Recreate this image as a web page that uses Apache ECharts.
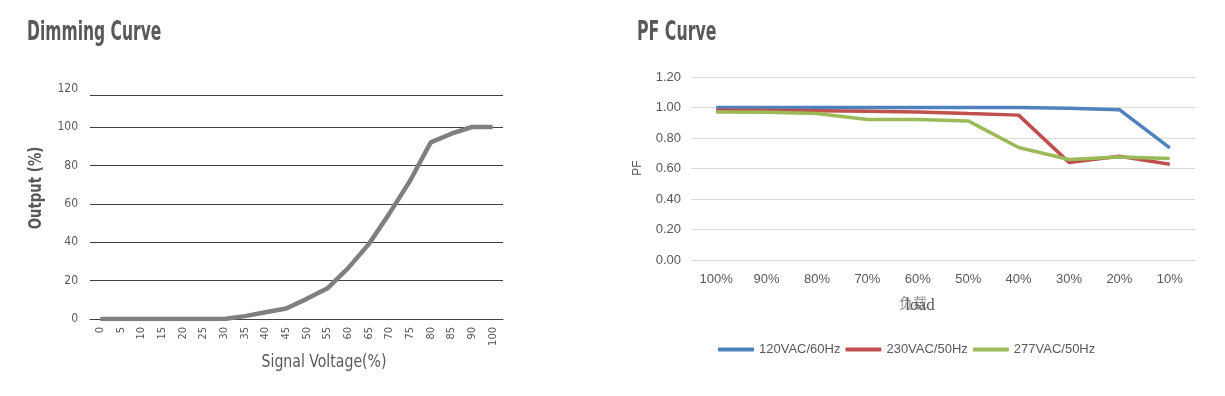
<!DOCTYPE html>
<html>
<head>
<meta charset="utf-8">
<script src="https://cdn.jsdelivr.net/npm/echarts@6/dist/echarts.min.js"></script>
<style>
html,body{margin:0;padding:0;background:#fff;}
#c{width:1225px;height:396px;}
</style>
</head>
<body>
<div id="c"></div>
<script>
// ---- Dimming curve data ----
const dimCategories = ['0','5','10','15','20','25','30','35','40','45','50','55','60','65','70','75','80','85','90','100'];
const dimOutput = [0,0,0,0,0,0,0,1.5,3.5,5.5,10.5,16,26.5,39,55,72,92,96.5,100,100];
const dimYTicks = [0,20,40,60,80,100,120];
const dimTopRule = 116.7;

// ---- PF curve data ----
const pfCategories = ['100%','90%','80%','70%','60%','50%','40%','30%','20%','10%'];
const pf120 = [1.00,1.00,1.00,1.00,1.00,1.00,1.00,0.995,0.986,0.735];
const pf230 = [0.982,0.980,0.978,0.975,0.971,0.960,0.950,0.640,0.680,0.628];
const pf277 = [0.971,0.969,0.960,0.921,0.921,0.912,0.738,0.659,0.676,0.666];
const pfSeriesNames = ['120VAC/60Hz','230VAC/50Hz','277VAC/50Hz'];

const narrow = "'Liberation Sans Narrow', 'DejaVu Sans Condensed', 'Roboto Condensed', sans-serif";
const plain = "'Liberation Sans', Arial, sans-serif";

const chart = echarts.init(document.getElementById('c'), null, {renderer:'canvas'});

const option = {
  animation: false,
  backgroundColor: '#ffffff',
  grid: [
    {left: 90, top: 88.6, width: 413, height: 230.4, containLabel: false},
    {left: 691, top: 77, width: 504, height: 183, containLabel: false}
  ],
  xAxis: [
    {
      gridIndex: 0, type: 'category', data: dimCategories, boundaryGap: true,
      axisLine: {show: true, lineStyle: {color: '#404040', width: 1}},
      axisTick: {show: false},
      axisLabel: {rotate: 90, margin: 8, fontSize: 11, color: '#595959', fontFamily: narrow, interval: 0},
      splitLine: {show: false}
    },
    {
      gridIndex: 1, type: 'category', data: pfCategories, boundaryGap: true,
      axisLine: {show: true, lineStyle: {color: '#d9d9d9', width: 1}},
      axisTick: {show: false},
      axisLabel: {margin: 13, fontSize: 13, color: '#595959', fontFamily: plain, interval: 0},
      splitLine: {show: false}
    }
  ],
  yAxis: [
    {
      gridIndex: 0, type: 'value', min: dimYTicks[0], max: dimYTicks[dimYTicks.length-1], interval: 20,
      axisLine: {show: false}, axisTick: {show: false},
      axisLabel: {margin: 12, fontSize: 12, color: '#595959', fontFamily: narrow},
      splitLine: {show: true, showMaxLine: false, lineStyle: {color: '#404040', width: 1}}
    },
    {
      gridIndex: 1, type: 'value', min: 0, max: 1.2, interval: 0.2,
      axisLine: {show: false}, axisTick: {show: false},
      axisLabel: {margin: 10, fontSize: 13, color: '#595959', fontFamily: plain,
        formatter: v => v.toFixed(2)},
      splitLine: {show: true, lineStyle: {color: '#d9d9d9', width: 1}}
    }
  ],
  legend: {
    data: pfSeriesNames,
    left: 718, top: 343,
    icon: 'roundRect', itemWidth: 36, itemHeight: 4, itemGap: 5,
    padding: 0,
    textStyle: {fontSize: 13, color: '#595959', fontFamily: plain}
  },
  series: [
    {
      type: 'line', xAxisIndex: 0, yAxisIndex: 0, data: dimOutput,
      symbol: 'none', lineStyle: {color: '#7f7f7f', width: 4.5}, itemStyle: {color: '#7f7f7f'},
      markLine: {silent: true, symbol: ['none','none'], label: {show: false},
        lineStyle: {color: '#404040', width: 1, type: 'solid'},
        data: [{yAxis: dimTopRule}]}
    },
    {
      name: pfSeriesNames[0], type: 'line', xAxisIndex: 1, yAxisIndex: 1, data: pf120,
      symbol: 'none', lineStyle: {color: '#4f81bd', width: 3.5}, itemStyle: {color: '#4f81bd'}
    },
    {
      name: pfSeriesNames[1], type: 'line', xAxisIndex: 1, yAxisIndex: 1, data: pf230,
      symbol: 'none', lineStyle: {color: '#c0504d', width: 3.5}, itemStyle: {color: '#c0504d'}
    },
    {
      name: pfSeriesNames[2], type: 'line', xAxisIndex: 1, yAxisIndex: 1, data: pf277,
      symbol: 'none', lineStyle: {color: '#9bbb59', width: 3.5}, itemStyle: {color: '#9bbb59'}
    }
  ],
  graphic: [
    {type: 'text', x: 27, y: 33, scaleX: 0.64,
      style: {text: 'Dimming Curve', font: 'bold 27px ' + narrow, fill: '#58595b', verticalAlign: 'middle', align: 'left'}},
    {type: 'text', x: 637, y: 33, scaleX: 0.65,
      style: {text: 'PF Curve', font: 'bold 27px ' + narrow, fill: '#58595b', verticalAlign: 'middle', align: 'left'}},
    {type: 'text', x: 37, y: 188, rotation: Math.PI/2, scaleX: 0.87,
      style: {text: 'Output (%)', font: 'bold 17px ' + narrow, fill: '#58595b', verticalAlign: 'middle', align: 'center'}},
    {type: 'text', x: 324, y: 362, scaleX: 0.87,
      style: {text: 'Signal Voltage(%)', font: '18px ' + narrow, fill: '#58595b', verticalAlign: 'middle', align: 'center'}},
    {type: 'text', x: 638, y: 168, rotation: Math.PI/2,
      style: {text: 'PF', font: '12px ' + plain, fill: '#595959', verticalAlign: 'middle', align: 'center'}},
    {type: 'text', x: 913, y: 303,
      style: {text: '负载', font: '14px "Noto Sans CJK SC", sans-serif', fill: '#8c8c8c', verticalAlign: 'middle', align: 'center'}},
    {type: 'text', x: 920, y: 306,
      style: {text: 'load', font: '17px "Liberation Serif", serif', fill: '#595959', verticalAlign: 'middle', align: 'center'}}
  ]
};
chart.setOption(option);
</script>
</body>
</html>
